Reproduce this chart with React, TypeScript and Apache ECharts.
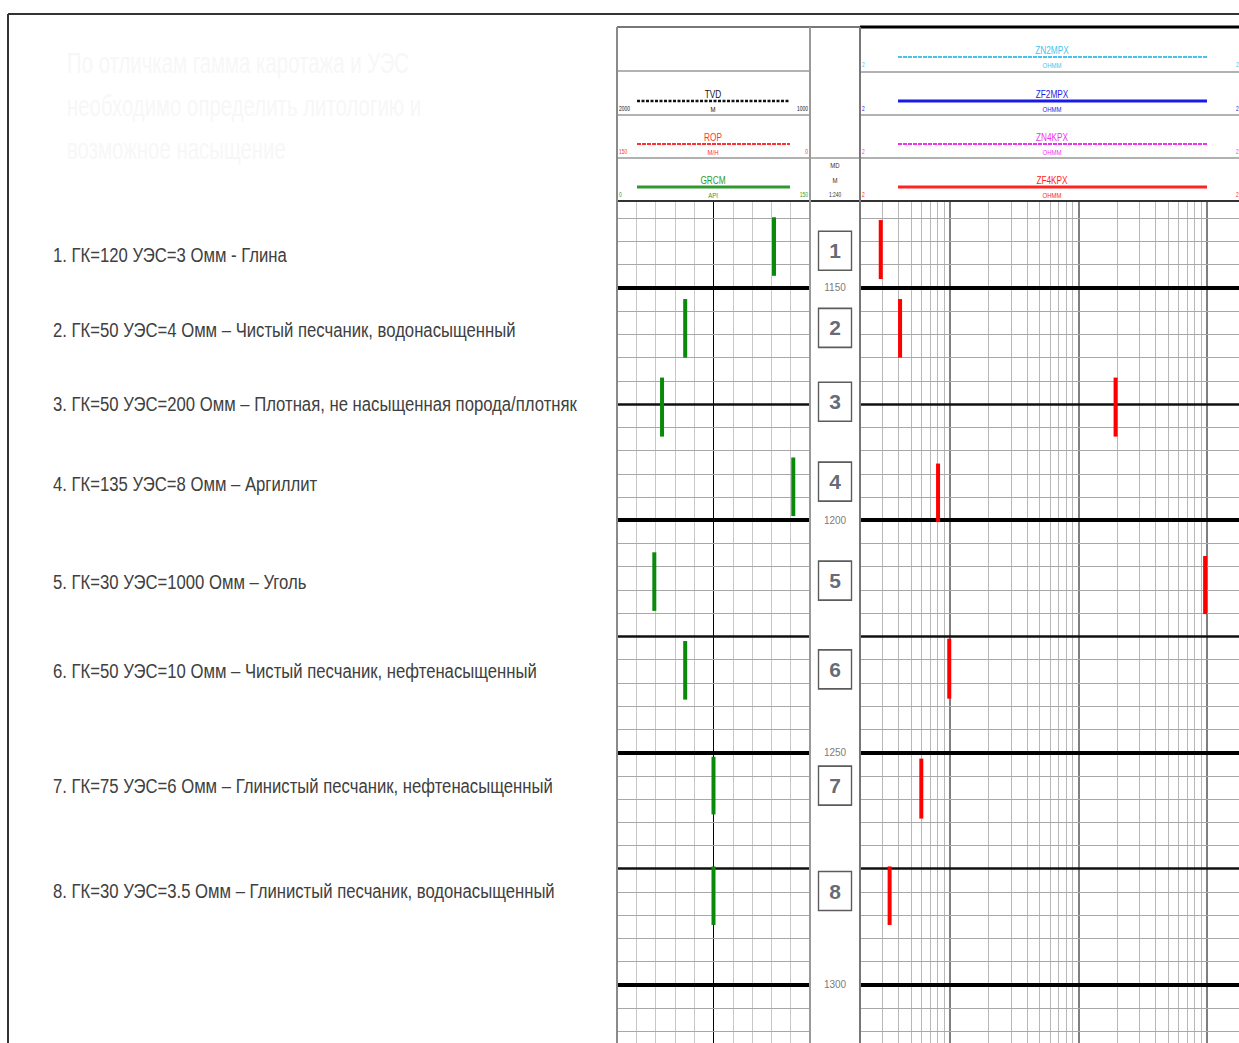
import React, { useEffect, useRef } from "react";
import * as echarts from "echarts";

const FONT = '"Liberation Sans", Arial, sans-serif';

// ---- data ----
const itemTexts = [
  "1. ГК=120 УЭС=3 Омм - Глина",
  "2. ГК=50 УЭС=4 Омм – Чистый песчаник, водонасыщенный",
  "3. ГК=50 УЭС=200 Омм – Плотная, не насыщенная порода/плотняк",
  "4. ГК=135 УЭС=8 Омм – Аргиллит",
  "5. ГК=30 УЭС=1000 Омм – Уголь",
  "6. ГК=50 УЭС=10 Омм – Чистый песчаник, нефтенасыщенный",
  "7. ГК=75 УЭС=6 Омм – Глинистый песчаник, нефтенасыщенный",
  "8. ГК=30 УЭС=3.5 Омм – Глинистый песчаник, водонасыщенный",
];
const itemDepths = [1142.9, 1159.0, 1174.9, 1192.1, 1213.3, 1232.4, 1257.1, 1279.8];
const boxNumbers = ["1", "2", "3", "4", "5", "6", "7", "8"];
const boxDepths = [1142.0, 1158.6, 1174.5, 1191.7, 1213.0, 1232.1, 1257.1, 1279.8];

const grValues = [122, 53, 35, 137, 29, 53, 75, 75];
const grTop = [1134.8, 1152.4, 1169.3, 1186.5, 1206.9, 1226.0, 1250.9, 1274.5];
const grBottom = [1147.4, 1165.0, 1182.0, 1199.1, 1219.5, 1238.6, 1263.3, 1287.1];

const resValues = [2.9, 4.1, 195, 8.1, 970, 9.9, 6, 3.4];
const resTop = [1135.4, 1152.4, 1169.3, 1187.8, 1207.7, 1225.5, 1251.3, 1274.5];
const resBottom = [1148.1, 1165.0, 1182.0, 1200.4, 1220.2, 1238.4, 1264.2, 1287.1];

const depthLabels = [1150, 1200, 1250, 1300];
const DEPTH_MIN = 1131.3;
const DEPTH_MAX = 1312.5;
const gridStep = 5;
const decadeTicks = [10, 100, 1000];
const logMinor = [2, 3, 4, 5, 6, 7, 8, 9, 20, 30, 40, 50, 60, 70, 80, 90, 200, 300, 400, 500, 600, 700, 800, 900];
const grCenter = 75;
const RES_MIN = 2;
const RES_MAX = 1780; // track continues beyond the right edge of the picture

const titleLines = [
  "По отличкам гамма каротажа и УЭС",
  "необходимо определить литологию и",
  "возможное насыщение",
];

const leftHeader = [
  { name: "TVD", unit: "M", lo: "2000", hi: "1000", color: "#111111", dash: [3, 1.5], width: 2.5, bottom: 115 },
  { name: "ROP", unit: "M/H", lo: "150", hi: "0", color: "#ff3030", dash: [4, 1], width: 2, bottom: 158 },
  { name: "GRCM", unit: "API", lo: "0", hi: "150", color: "#2e9a2e", dash: null, width: 3, bottom: 201 },
];
const rightHeader = [
  { name: "ZN2MPX", unit: "OHMM", color: "#45c4ee", dash: [4, 1], width: 2, bottom: 71 },
  { name: "ZF2MPX", unit: "OHMM", color: "#1a1ae6", dash: null, width: 3, bottom: 115 },
  { name: "ZN4KPX", unit: "OHMM", color: "#ee33ee", dash: [4, 1], width: 2, bottom: 158 },
  { name: "ZF4KPX", unit: "OHMM", color: "#ff2424", dash: null, width: 3, bottom: 201 },
];

function depthGridLines() {
  const out: any[] = [];
  const start = Math.ceil(DEPTH_MIN / gridStep) * gridStep;
  for (let d = start; d <= DEPTH_MAX; d += gridStep) {
    let ls: any = { color: "#a8a8a8", width: 1, type: "solid" };
    if (d % 50 === 0) ls = { color: "#000000", width: 4, type: "solid" };
    else if (d % 25 === 0) ls = { color: "#111111", width: 2.5, type: "solid" };
    out.push({ yAxis: d, lineStyle: ls });
  }
  return out;
}

function txt(text: string, x: number, y: number, color: string, size: number, align = "center", scaleX = 0.8, weight = "normal") {
  return {
    type: "text",
    x,
    y,
    scaleX,
    z: 20,
    silent: true,
    style: {
      text,
      fill: color,
      font: `${weight} ${size}px ${FONT}`,
      align,
      textAlign: align,
      verticalAlign: "middle",
      textVerticalAlign: "middle",
    },
  };
}
function ln(x1: number, y1: number, x2: number, y2: number, stroke: string, lineWidth: number, dash: any = null) {
  const style: any = { stroke, lineWidth };
  if (dash) style.lineDash = dash;
  return { type: "line", z: 15, silent: true, shape: { x1, y1, x2, y2 }, style };
}

function buildGraphic() {
  const g: any[] = [];
  titleLines.forEach((s, i) => {
    g.push({
      type: "text",
      x: 67,
      y: 62 + i * 43,
      scaleX: 0.68,
      z: 1,
      silent: true,
      style: { text: s, fill: "#f7f7f7", font: `30px ${FONT}`, align: "left", textAlign: "left", verticalAlign: "middle", textVerticalAlign: "middle" },
    });
  });
  g.push(ln(8, 14, 1239, 14, "#333333", 2));
  g.push(ln(8, 14, 8, 1043, "#333333", 2));
  g.push(ln(617, 27, 860, 27, "#777777", 2));
  g.push(ln(860, 27, 1239, 27, "#000000", 3));
  [71, 115, 158].forEach((y) => g.push(ln(617, y, 810, y, "#999999", 1.5)));
  [72, 115, 158].forEach((y) => g.push(ln(860, y, 1239, y, "#999999", 1.5)));
  g.push(ln(810, 158, 860, 158, "#999999", 1.5));
  g.push(ln(617, 201, 1239, 201, "#333333", 2));
  g.push(ln(617, 27, 617, 1043, "#8a8a8a", 2));
  g.push(ln(810, 27, 810, 1043, "#9a9a9a", 2));
  g.push(ln(860, 27, 860, 1043, "#777777", 2));
  leftHeader.forEach((h) => {
    g.push(ln(637, h.bottom - 14, 790, h.bottom - 14, h.color, h.width, h.dash));
    g.push(txt(h.name, 713, h.bottom - 21, h.color, 11, "center", 0.75));
    g.push(txt(h.unit, 713, h.bottom - 6, h.color, 8, "center", 0.75));
    g.push(txt(h.lo, 619, h.bottom - 6, h.color, 7, "left", 0.7));
    g.push(txt(h.hi, 808, h.bottom - 6, h.color, 7, "right", 0.7));
  });
  rightHeader.forEach((h) => {
    g.push(ln(898, h.bottom - 14, 1207, h.bottom - 14, h.color, h.width, h.dash));
    g.push(txt(h.name, 1052, h.bottom - 21, h.color, 11, "center", 0.75));
    g.push(txt(h.unit, 1052, h.bottom - 6, h.color, 8, "center", 0.75));
    g.push(txt("2", 862, h.bottom - 6, h.color, 7, "left", 0.7));
    g.push(txt("2", 1236, h.bottom - 6, h.color, 7, "left", 0.7));
  });
  g.push(txt("MD", 835, 165, "#333333", 8, "center", 0.75));
  g.push(txt("M", 835, 180, "#333333", 8, "center", 0.75));
  g.push(txt("1:240", 835, 195, "#333333", 7, "center", 0.7));
  return g;
}

function barRenderer(color: string) {
  return (params: any, api: any) => {
    const p1 = api.coord([api.value(0), api.value(1)]);
    const p2 = api.coord([api.value(0), api.value(2)]);
    return {
      type: "line",
      shape: { x1: p1[0], y1: p1[1], x2: p2[0], y2: p2[1] },
      style: { stroke: color, lineWidth: 4 },
    };
  };
}

export default function App() {
  const ref = useRef<HTMLDivElement>(null);
  useEffect(() => {
    if (!ref.current) return;
    const chart = echarts.init(ref.current, null, { renderer: "svg" });
    const hLines = depthGridLines();
    const yAx = (i: number) => ({
      gridIndex: i,
      type: "value",
      min: DEPTH_MIN,
      max: DEPTH_MAX,
      inverse: true,
      show: false,
    });
    const option: any = {
      animation: false,
      backgroundColor: "#ffffff",
      grid: [
        { left: 617, top: 201, width: 193, height: 842 },
        { left: 810, top: 201, width: 50, height: 842 },
        { left: 860, top: 201, width: 379, height: 842 },
        { left: 48, top: 201, width: 560, height: 842 },
      ],
      xAxis: [
        {
          gridIndex: 0,
          type: "value",
          min: 0,
          max: 150,
          interval: 15,
          axisLine: { show: false },
          axisTick: { show: false },
          axisLabel: { show: false },
          splitLine: { show: true, lineStyle: { color: "#c8c8c8", width: 1 } },
        },
        { gridIndex: 1, type: "value", min: 0, max: 1, show: false },
        { gridIndex: 2, type: "log", logBase: 10, min: RES_MIN, max: RES_MAX, show: false },
        { gridIndex: 3, type: "value", min: 0, max: 1, show: false },
      ],
      yAxis: [yAx(0), yAx(1), yAx(2), yAx(3)],
      series: [
        {
          type: "line",
          xAxisIndex: 0,
          yAxisIndex: 0,
          data: [],
          z: 1,
          markLine: {
            silent: true,
            symbol: ["none", "none"],
            label: { show: false },
            animation: false,
            data: [{ xAxis: grCenter, lineStyle: { color: "#000000", width: 1, type: "solid" } }, ...hLines],
          },
        },
        {
          type: "line",
          xAxisIndex: 2,
          yAxisIndex: 2,
          data: [],
          z: 1,
          markLine: {
            silent: true,
            symbol: ["none", "none"],
            label: { show: false },
            animation: false,
            data: [
              ...logMinor.map((v) => ({ xAxis: v, lineStyle: { color: "#b8b8b8", width: 1, type: "solid" } })),
              ...decadeTicks.map((v) => ({ xAxis: v, lineStyle: { color: "#555555", width: 1.5, type: "solid" } })),
              ...hLines,
            ],
          },
        },
        {
          type: "custom",
          xAxisIndex: 0,
          yAxisIndex: 0,
          z: 5,
          renderItem: barRenderer("#0a8a0a"),
          encode: { x: 0, y: [1, 2] },
          data: grValues.map((v, i) => [v, grTop[i], grBottom[i]]),
        },
        {
          type: "custom",
          xAxisIndex: 2,
          yAxisIndex: 2,
          z: 5,
          renderItem: barRenderer("#ff0000"),
          encode: { x: 0, y: [1, 2] },
          data: resValues.map((v, i) => [v, resTop[i], resBottom[i]]),
        },
        {
          type: "scatter",
          xAxisIndex: 1,
          yAxisIndex: 1,
          z: 5,
          symbol: "rect",
          symbolSize: [33, 39],
          itemStyle: { color: "#ffffff", borderColor: "#333333", borderWidth: 1.5 },
          label: {
            show: true,
            position: "inside",
            formatter: "{b}",
            fontFamily: FONT,
            fontSize: 21,
            fontWeight: "bold",
            color: "#3b4252",
          },
          data: boxDepths.map((d, i) => ({ name: boxNumbers[i], value: [0.5, d] })),
        },
        {
          type: "scatter",
          xAxisIndex: 1,
          yAxisIndex: 1,
          z: 5,
          symbolSize: 1,
          itemStyle: { color: "rgba(0,0,0,0)" },
          label: {
            show: true,
            position: "inside",
            formatter: "{b}",
            fontFamily: FONT,
            fontSize: 10,
            color: "#555555",
          },
          data: depthLabels.map((d) => ({ name: String(d), value: [0.5, d] })),
        },
      ],
    };
    chart.setOption(option);

    // list of interpretations, placed at their depths via the shared depth axis
    const listTexts = itemTexts.map((t, i) => {
      const p = chart.convertToPixel({ gridIndex: 3 }, [0, itemDepths[i]]) as number[];
      return {
        type: "text",
        x: p[0] + 5,
        y: p[1],
        scaleX: 0.835,
        z: 10,
        silent: true,
        style: {
          text: t,
          fill: "#404040",
          font: `20px ${FONT}`,
          align: "left",
          textAlign: "left",
          verticalAlign: "middle",
          textVerticalAlign: "middle",
        },
      };
    });
    chart.setOption({ graphic: { elements: [...buildGraphic(), ...listTexts] } });
    return () => chart.dispose();
  }, []);
  return (
    <div
      ref={ref}
      style={{ position: "absolute", left: 0, top: 0, width: 1239, height: 1043, background: "#ffffff" }}
    />
  );
}
